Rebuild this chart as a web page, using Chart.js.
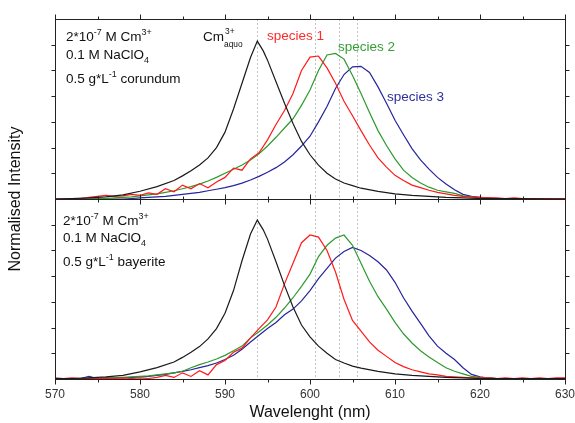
<!DOCTYPE html>
<html>
<head>
<meta charset="utf-8">
<script src="https://cdn.jsdelivr.net/npm/chart.js@4"></script>
<style>
  body { margin: 0; background: #fff; }
  canvas { display: block; }
</style>
</head>
<body>
<canvas id="myChart" width="575" height="423"></canvas>
<script>
// wavelength grid (nm) for the species spectra
const wl = [570,571,572,573,574,575,576,577,578,579,580,581,582,583,584,585,586,587,588,589,
            590,591,592,593,594,595,596,597,598,599,600,601,602,603,604,605,606,607,608,609,
            610,611,612,613,614,615,616,617,618,619,620,621,622,623,624,625,626,627,628,629,630];
// grid for the Cm aquo spectra
const wlAquo = [570,572,574,576,578,580,582,584,585,586,587,588,589,590,591,592,593,593.8,594.5,595,
                596,597,598,599,600,601,602,603,604,605,606,608,610,612,614,616,618,620,624,630];

// top panel: corundum
const aquoTop = [0,0.01,0.02,0.04,0.08,0.15,0.24,0.36,0.45,0.55,0.66,0.8,1.0,1.3,1.75,2.25,2.75,3.07,2.88,2.7,
                 2.28,1.86,1.47,1.12,0.86,0.66,0.5,0.39,0.31,0.26,0.21,0.15,0.1,0.07,0.05,0.03,0.02,0.01,0.01,0];
const sp1Top = [0,0,0.01,0.01,0.03,0.05,0.07,0.05,0.06,0.09,0.07,0.12,0.09,0.2,0.14,0.27,0.2,0.3,0.22,0.33,
                0.42,0.6,0.56,0.78,0.9,1.15,1.45,1.72,2.05,2.5,2.76,2.78,2.55,2.25,1.9,1.62,1.33,1.05,0.8,0.62,
                0.46,0.36,0.27,0.22,0.17,0.13,0.1,0.07,0.05,0.04,0.03,0.02,0.02,0.01,0.02,0.01,0.01,0.01,0.01,0.01,0.01];
const sp2Top = [0,0,0,0,0,0.01,0.01,0.02,0.03,0.04,0.06,0.08,0.1,0.13,0.16,0.2,0.24,0.29,0.35,0.42,
                0.5,0.58,0.66,0.76,0.88,1.03,1.2,1.38,1.56,1.82,2.12,2.5,2.8,2.83,2.72,2.4,2.05,1.68,1.33,1.04,
                0.78,0.56,0.42,0.31,0.23,0.17,0.14,0.11,0.06,0.04,0.02,0.01,0.01,0.01,0.01,0.01,0.01,0.01,0.01,0.01,0.01];
const sp3Top = [0,0,0,0,0,0,0,0,0,0.01,0.02,0.03,0.04,0.05,0.07,0.09,0.11,0.13,0.16,0.19,
                0.22,0.26,0.31,0.37,0.44,0.52,0.61,0.72,0.86,1.03,1.22,1.5,1.8,2.15,2.42,2.57,2.58,2.46,2.18,1.86,
                1.53,1.25,0.98,0.76,0.58,0.42,0.29,0.18,0.09,0.05,0.03,0.02,0.01,0.01,0.01,0.01,0.01,0.01,0.01,0.01,0.01];

// bottom panel: bayerite
const aquoBot = [0.01,0.01,0.02,0.04,0.07,0.14,0.22,0.33,0.42,0.52,0.63,0.78,0.98,1.28,1.72,2.3,2.82,3.09,2.9,2.72,
                 2.28,1.82,1.4,1.05,0.82,0.64,0.5,0.38,0.31,0.25,0.21,0.15,0.1,0.07,0.05,0.03,0.02,0.01,0.01,0.01];
const sp1Bot = [0.02,0.01,0.02,0.01,0.02,0.01,0.02,0.01,0.02,0.01,0.02,0.01,0.03,0.07,0.03,0.12,0.05,0.16,0.08,0.28,
                0.36,0.52,0.6,0.8,0.98,1.15,1.4,1.85,2.25,2.65,2.8,2.76,2.5,2.08,1.55,1.14,0.93,0.72,0.56,0.44,
                0.32,0.24,0.18,0.14,0.1,0.08,0.05,0.04,0.03,0.02,0.02,0.02,0.01,0.02,0.01,0.02,0.01,0.02,0.01,0.02,0.02];
const sp2Bot = [0.01,0.01,0.01,0.01,0.01,0.01,0.02,0.02,0.03,0.04,0.05,0.06,0.08,0.1,0.12,0.15,0.22,0.28,0.33,0.39,
                0.46,0.55,0.64,0.8,0.92,1.05,1.2,1.38,1.58,1.8,2.04,2.38,2.6,2.74,2.8,2.6,2.25,1.9,1.6,1.36,
                1.1,0.88,0.7,0.55,0.43,0.32,0.22,0.15,0.1,0.05,0.03,0.02,0.01,0.01,0.01,0.01,0.01,0.01,0.01,0.01,0.01];
const sp3Bot = [0.01,0.01,0.01,0.01,0.05,0.01,0.01,0.02,0.02,0.03,0.04,0.05,0.07,0.09,0.12,0.15,0.18,0.22,0.26,0.31,
                0.38,0.46,0.58,0.72,0.85,0.98,1.1,1.25,1.36,1.52,1.72,1.95,2.15,2.35,2.48,2.56,2.5,2.4,2.28,2.12,
                1.88,1.58,1.32,1.08,0.84,0.64,0.5,0.38,0.22,0.09,0.04,0.02,0.01,0.01,0.01,0.01,0.01,0.01,0.01,0.01,0.01];

// peak positions marked by the dotted lines
const peakWl = [593.8, 600.6, 603.4, 605.5];
const xTicks = [570, 580, 590, 600, 610, 620, 630];

const FONT = '"Liberation Sans", Arial, sans-serif';
const cBlack = '#1a1a1a', cRed = '#ff1a1a', cGreen = '#2e9a2e', cBlue = '#25259c';

let pts = (xs, ys) => xs.map((x, i) => ({x: x, y: ys[i]}));
let line = (xs, ys, color, axis) => ({
    data: pts(xs, ys), borderColor: color, borderWidth: 1.2,
    pointRadius: 0, tension: 0, yAxisID: axis, fill: false
});

// text with super/subscripts: parts = [[text, 'n'|'sup'|'sub'], ...]
function richText(ctx, parts, x, y, color, size) {
    ctx.fillStyle = color;
    ctx.textBaseline = 'alphabetic';
    ctx.textAlign = 'left';
    let cx = x;
    parts.forEach(p => {
        let small = p[1] !== 'n';
        ctx.font = (small ? size * 0.66 : size) + 'px ' + FONT;
        let dy = p[1] === 'sup' ? -size * 0.42 : (p[1] === 'sub' ? size * 0.3 : 0);
        ctx.fillText(p[0], cx, y + dy);
        cx += ctx.measureText(p[0]).width;
    });
}

const decor = {
    id: 'decor',
    beforeDatasetsDraw(chart) {
        const ctx = chart.ctx, a = chart.chartArea, xs = chart.scales.x;
        ctx.save();
        ctx.strokeStyle = '#c4c4c4';
        ctx.lineWidth = 1;
        ctx.setLineDash([2, 2]);
        peakWl.forEach(w => {
            let px = Math.round(xs.getPixelForValue(w)) + 0.5;
            ctx.beginPath();
            ctx.moveTo(px, a.top);
            ctx.lineTo(px, a.bottom);
            ctx.stroke();
        });
        ctx.restore();
    },
    afterDatasetsDraw(chart) {
        const ctx = chart.ctx, xs = chart.scales.x;
        ctx.save();
        ctx.strokeStyle = '#222';
        ctx.lineWidth = 1;
        ['yTop', 'yBot'].forEach(id => {
            const ys = chart.scales[id];
            let l = Math.round(xs.left) + 0.5, r = Math.round(xs.right) + 0.5;
            let t = Math.round(ys.getPixelForValue(ys.max)) + 0.5, b = Math.round(ys.getPixelForValue(0)) + 0.5;
            ctx.strokeRect(l, t, r - l, b - t);
            ctx.beginPath();
            for (let w = 570; w <= 630; w += 5) {
                let px = Math.round(xs.getPixelForValue(w)) + 0.5;
                let len = (w % 10 === 0) ? 5 : 3;
                ctx.moveTo(px, t); ctx.lineTo(px, t - len);
                ctx.moveTo(px, b); ctx.lineTo(px, b + len);
            }
            for (let v = 0.5; v < ys.max; v += 0.5) {
                let py = Math.round(ys.getPixelForValue(v)) + 0.5;
                ctx.moveTo(l, py); ctx.lineTo(l - 4, py);
                ctx.moveTo(r, py); ctx.lineTo(r + 4, py);
            }
            ctx.stroke();
        });

        // annotations
        const s = 13.5;
        const yT = chart.scales.yTop, yB = chart.scales.yBot;
        let topY = yT.getPixelForValue(yT.max), botY = yB.getPixelForValue(yB.max);
        richText(ctx, [['2*10', 'n'], ['-7', 'sup'], [' M Cm', 'n'], ['3+', 'sup']], 66, topY + 22, '#111', s);
        richText(ctx, [['0.1 M NaClO', 'n'], ['4', 'sub']], 66, topY + 40, '#111', s);
        richText(ctx, [['0.5 g*L', 'n'], ['-1', 'sup'], [' corundum', 'n']], 66, topY + 64, '#111', s);
        richText(ctx, [['2*10', 'n'], ['-7', 'sup'], [' M Cm', 'n'], ['3+', 'sup']], 63, botY + 26, '#111', s);
        richText(ctx, [['0.1 M NaClO', 'n'], ['4', 'sub']], 63, botY + 43, '#111', s);
        richText(ctx, [['0.5 g*L', 'n'], ['-1', 'sup'], [' bayerite', 'n']], 63, botY + 67, '#111', s);

        // Cm aquo label with stacked sup/sub
        ctx.font = s + 'px ' + FONT;
        ctx.fillStyle = '#111';
        ctx.textAlign = 'left';
        ctx.fillText('Cm', 203, topY + 22);
        let cmw = ctx.measureText('Cm').width;
        ctx.font = (s * 0.62) + 'px ' + FONT;
        ctx.fillText('3+', 203 + cmw + 1, topY + 15);
        ctx.fillText('aquo', 203 + cmw, topY + 28);

        ctx.font = s + 'px ' + FONT;
        ctx.fillStyle = '#ff2a2a';
        ctx.fillText('species 1', 267, topY + 21);
        ctx.fillStyle = '#35a035';
        ctx.fillText('species 2', 338, topY + 32);
        ctx.fillStyle = '#2f2fa0';
        ctx.fillText('species 3', 387, topY + 82);

        // axis titles
        ctx.fillStyle = '#111';
        ctx.font = '16px ' + FONT;
        ctx.textAlign = 'center';
        ctx.textBaseline = 'middle';
        ctx.fillText('Wavelenght (nm)', (xs.left + xs.right) / 2, 413);
        ctx.translate(16, (chart.chartArea.top + chart.chartArea.bottom) / 2);
        ctx.rotate(-Math.PI / 2);
        ctx.fillText('Normalised Intensity', 0, 0);
        ctx.restore();
    }
};

let yAxis = () => ({
    type: 'linear', position: 'left', stack: 'panels', stackWeight: 1,
    min: 0, max: 3.5,
    ticks: {display: false}, grid: {display: false, drawTicks: false}, border: {display: false},
    afterFit(s) { s.width = 0; }
});

new Chart(document.getElementById('myChart'), {
    type: 'line',
    data: {
        datasets: [
            line(wlAquo, aquoTop, cBlack, 'yTop'),
            line(wl, sp1Top, cRed, 'yTop'),
            line(wl, sp2Top, cGreen, 'yTop'),
            line(wl, sp3Top, cBlue, 'yTop'),
            line(wlAquo, aquoBot, cBlack, 'yBot'),
            line(wl, sp1Bot, cRed, 'yBot'),
            line(wl, sp2Bot, cGreen, 'yBot'),
            line(wl, sp3Bot, cBlue, 'yBot')
        ]
    },
    options: {
        responsive: false,
        devicePixelRatio: 1,
        animation: false,
        layout: {padding: {left: 55, right: 10, top: 19, bottom: 0}},
        plugins: {legend: {display: false}, tooltip: {enabled: false}},
        scales: {
            x: {
                type: 'linear', min: 570, max: 630,
                afterBuildTicks(s) { s.ticks = xTicks.map(v => ({value: v})); },
                ticks: {color: '#333', font: {family: FONT, size: 12}, padding: 8, maxRotation: 0},
                grid: {display: false, drawTicks: false}, border: {display: false},
                afterFit(s) { s.height = 44; s.paddingLeft = 0; s.paddingRight = 0; }
            },
            // the first stacked axis is placed at the bottom
            yBot: yAxis(),
            yTop: yAxis()
        }
    },
    plugins: [decor]
});
</script>
</body>
</html>
